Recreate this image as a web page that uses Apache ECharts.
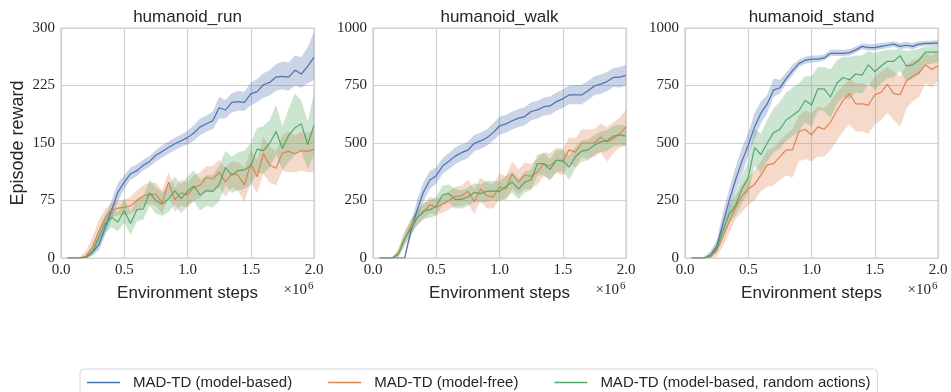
<!DOCTYPE html>
<html>
<head>
<meta charset="utf-8">
<script src="https://cdn.jsdelivr.net/npm/echarts@6/dist/echarts.min.js"></script>
<style>
  html, body { margin: 0; padding: 0; background: #ffffff; }
  #chart { width: 951px; height: 392px; }
</style>
</head>
<body>
<div id="chart"></div>
<script>
// Environment steps (in millions)
const steps = [0.05, 0.10, 0.15, 0.20, 0.25, 0.30, 0.35, 0.40, 0.45, 0.50,
               0.55, 0.60, 0.65, 0.70, 0.75, 0.80, 0.85, 0.90, 0.95, 1.00,
               1.05, 1.10, 1.15, 1.20, 1.25, 1.30, 1.35, 1.40, 1.45, 1.50,
               1.55, 1.60, 1.65, 1.70, 1.75, 1.80, 1.85, 1.90, 1.95, 2.00];

const seriesNames = ['MAD-TD (model-based)', 'MAD-TD (model-free)', 'MAD-TD (model-based, random actions)'];
const taskTitles = ['humanoid_run', 'humanoid_walk', 'humanoid_stand'];
const yMax = [300, 1000, 1000];
const yStep = [75, 250, 250];

// humanoid_run
const runBasedMean = [0,0,0,1,8,17,40,62,86,99,110,114,121,126,134,139,144,149,153,157,163,171,175,179,196,193,203,204,203,214,217,226,229,236,237,236,245,240,250,262];
const runBasedLow  = [0,0,0,0,4,10,30,50,74,90,102,107,114,119,126,131,136,141,145,148,153,160,165,168,182,182,190,192,192,199,203,209,212,218,220,218,225,222,228,232];
const runBasedHigh = [0,0,0,3,13,26,52,75,98,108,118,122,128,133,141,147,152,157,161,166,173,182,186,191,210,206,215,218,217,229,233,241,245,253,256,255,264,262,275,295];
const runFreeMean  = [0,0,0,3,15,35,52,62,65,66,68,75,81,83,83,72,99,76,85,82,92,95,105,103,112,99,110,108,95,124,106,136,121,117,137,139,136,140,139,142];
const runFreeLow   = [0,0,0,0,6,22,40,52,56,56,58,62,68,70,68,58,80,60,68,66,75,78,88,85,92,80,92,88,72,100,84,110,98,95,114,112,112,114,112,112];
const runFreeHigh  = [0,0,2,10,28,50,64,72,75,76,80,88,95,98,98,88,112,92,102,98,108,112,120,120,128,118,126,125,118,142,128,158,145,140,160,165,160,165,163,168];
const runRandMean  = [0,0,0,1,8,28,45,53,47,62,45,63,64,85,75,70,77,88,77,87,94,82,88,87,96,118,108,114,115,120,142,140,150,165,143,160,170,175,148,173];
const runRandLow   = [0,0,0,0,3,18,33,40,35,46,30,48,50,68,58,55,60,70,58,68,74,62,68,66,74,95,85,88,90,95,112,110,118,135,115,125,135,140,115,135];
const runRandHigh  = [0,0,0,3,14,38,57,66,60,78,60,78,80,102,92,86,95,106,96,106,114,102,108,108,120,140,132,138,140,150,170,172,180,200,172,195,215,205,178,215];

// humanoid_walk
const walkBasedMean = [0,0,0,0,0,120,211,288,339,358,400,421,443,458,469,499,509,523,545,574,583,597,608,615,637,644,658,661,680,692,709,709,709,727,748,756,767,785,786,794];
const walkBasedLow  = [0,0,0,0,0,90,171,248,301,323,365,386,408,423,434,464,474,488,510,536,545,559,570,577,599,606,620,623,640,652,669,669,669,687,708,714,725,743,741,749];
const walkBasedHigh = [0,0,0,0,0,155,255,330,378,395,435,457,480,495,505,535,545,560,585,615,622,636,648,655,677,684,698,702,720,733,750,752,753,770,790,798,810,825,830,840];
const walkFreeMean  = [0,0,0,20,80,140,175,200,232,220,235,250,268,270,290,245,300,270,265,310,300,365,330,360,355,375,410,400,425,420,470,460,500,500,500,525,505,520,540,570];
const walkFreeLow   = [0,0,0,5,50,110,145,170,195,185,198,210,225,225,240,190,250,215,215,255,250,300,275,300,300,320,355,345,370,360,410,395,440,430,440,460,420,455,480,490];
const walkFreeHigh  = [0,0,0,40,110,170,205,235,265,255,275,290,310,315,340,300,350,330,320,370,355,420,385,415,410,430,460,455,480,475,525,520,560,560,560,585,570,590,610,645];
const walkRandMean  = [0,0,0,15,85,130,175,205,210,225,275,280,255,255,265,285,280,290,292,290,310,330,300,330,340,410,410,385,425,425,395,440,465,470,490,505,510,530,535,530];
const walkRandLow   = [0,0,0,0,60,100,140,170,175,185,230,240,215,215,225,245,240,245,250,245,260,285,255,285,295,360,360,335,375,375,340,390,420,425,450,460,465,485,490,485];
const walkRandHigh  = [0,0,0,35,115,165,210,240,250,265,315,320,300,295,305,325,320,335,335,335,355,375,345,375,385,450,455,430,470,470,445,485,510,515,535,550,555,575,580,575];

// humanoid_stand
const standBasedMean = [0,0,0,12,50,150,250,340,420,490,570,630,670,730,740,780,815,845,860,865,865,870,890,890,890,893,905,920,915,915,920,925,930,920,925,920,930,933,933,935];
const standBasedLow  = [0,0,0,0,30,100,195,285,365,440,520,585,630,700,715,760,795,830,845,850,852,858,878,878,878,880,892,908,902,902,908,912,918,908,912,908,918,922,922,925];
const standBasedHigh = [0,0,5,30,75,200,300,395,480,545,630,680,710,780,775,805,840,862,875,880,880,885,905,905,905,908,920,933,930,930,935,938,942,935,940,935,942,945,945,948];
const standFreeMean  = [0,0,0,5,30,90,160,220,270,300,320,360,405,410,440,470,470,550,560,535,570,560,590,640,685,715,670,670,665,710,720,755,715,710,770,790,805,840,820,835];
const standFreeLow   = [0,0,0,0,5,50,110,170,200,230,250,290,310,315,340,360,350,420,430,420,440,440,470,510,550,580,550,550,540,580,600,630,600,570,650,680,700,760,740,770];
const standFreeHigh  = [0,0,0,15,60,130,210,270,320,350,380,420,470,480,510,540,560,620,640,630,660,650,680,720,750,780,760,760,750,790,810,830,810,790,840,860,870,890,880,895];
const standRandMean  = [0,0,0,10,40,120,190,230,300,350,480,450,500,545,560,600,620,640,685,665,735,735,700,760,785,775,800,795,840,810,835,855,855,880,835,840,860,895,895,895];
const standRandLow   = [0,0,0,2,25,90,150,185,240,280,400,370,420,460,475,510,530,550,590,570,640,640,610,670,700,690,720,715,760,730,760,780,785,815,770,780,800,840,845,850];
const standRandHigh  = [0,0,0,20,60,150,230,280,360,420,560,540,600,650,680,720,740,760,790,790,830,830,820,860,875,875,880,880,900,890,900,905,905,910,900,905,910,920,920,925];

const panels = [
  [[runBasedMean, runBasedLow, runBasedHigh], [runFreeMean, runFreeLow, runFreeHigh], [runRandMean, runRandLow, runRandHigh]],
  [[walkBasedMean, walkBasedLow, walkBasedHigh], [walkFreeMean, walkFreeLow, walkFreeHigh], [walkRandMean, walkRandLow, walkRandHigh]],
  [[standBasedMean, standBasedLow, standBasedHigh], [standFreeMean, standFreeLow, standFreeHigh], [standRandMean, standRandLow, standRandHigh]]
];

const colors = ['#4c72b0', '#dd8452', '#55a868'];
const gridLeft = [61, 373, 685];
const gridWidth = 253;
const gridTop = 28;
const gridHeight = 230;
const sansFont = "'Liberation Sans', 'DejaVu Sans', sans-serif";
const serifFont = "'Liberation Serif', 'DejaVu Serif', serif";
const textColor = '#262626';
const lineGrey = '#d2d2d2';

const grids = [], xAxes = [], yAxes = [], series = [], graphics = [];

// Shaded spread between low and high, drawn as one polygon through the axis scales
function bandSeries(gi, lo, hi, color) {
  return {
    type: 'custom',
    xAxisIndex: gi,
    yAxisIndex: gi,
    silent: true,
    z: 1,
    data: steps.map((x, i) => [x, lo[i], hi[i]]),
    encode: { x: 0, y: [1, 2] },
    renderItem(params, api) {
      if (params.dataIndex !== 0) return null;
      const pts = [];
      for (let i = 0; i < steps.length; i++) pts.push(api.coord([steps[i], hi[i]]));
      for (let i = steps.length - 1; i >= 0; i--) pts.push(api.coord([steps[i], lo[i]]));
      return { type: 'polygon', shape: { points: pts }, style: { fill: color, opacity: 0.3 } };
    }
  };
}

panels.forEach((panel, gi) => {
  grids.push({
    left: gridLeft[gi], top: gridTop, width: gridWidth, height: gridHeight,
    show: true, borderColor: lineGrey, borderWidth: 1.2, backgroundColor: '#ffffff'
  });
  xAxes.push({
    gridIndex: gi, type: 'value', min: 0, max: 2, interval: 0.5,
    axisLine: { show: false }, axisTick: { show: false },
    splitLine: { show: true, lineStyle: { color: lineGrey, width: 1.2 } },
    axisLabel: {
      formatter: v => v.toFixed(1), fontFamily: serifFont, fontSize: 15,
      color: textColor, margin: 5, showMinLabel: true, showMaxLabel: true
    },
    name: 'Environment steps', nameLocation: 'middle', nameGap: 27,
    nameTextStyle: { fontFamily: sansFont, fontSize: 17, color: textColor }
  });
  yAxes.push({
    gridIndex: gi, type: 'value', min: 0, max: yMax[gi], interval: yStep[gi],
    axisLine: { show: false }, axisTick: { show: false },
    splitLine: { show: true, lineStyle: { color: lineGrey, width: 1.2 } },
    axisLabel: { formatter: v => String(v), fontFamily: serifFont, fontSize: 15, color: textColor, margin: 6 },
    name: gi === 0 ? 'Episode reward' : '', nameLocation: 'middle', nameGap: 34,
    nameTextStyle: { fontFamily: sansFont, fontSize: 18, color: textColor }
  });

  panel.forEach((s, si) => series.push(bandSeries(gi, s[1], s[2], colors[si])));
  panel.forEach((s, si) => series.push({
    name: seriesNames[si], type: 'line', xAxisIndex: gi, yAxisIndex: gi,
    data: steps.map((x, i) => [x, s[0][i]]),
    showSymbol: false, symbol: 'none', z: 3, silent: true,
    lineStyle: { color: colors[si], width: 1.2 }, itemStyle: { color: colors[si] }
  }));

  const cx = gridLeft[gi] + gridWidth / 2;
  graphics.push({
    type: 'text', x: cx, y: 17, silent: true,
    style: { text: taskTitles[gi], font: "17px 'Liberation Sans', 'DejaVu Sans', sans-serif",
      fill: textColor, align: 'center', verticalAlign: 'middle', textAlign: 'center', textVerticalAlign: 'middle' }
  });
  const rx = gridLeft[gi] + gridWidth;
  graphics.push({
    type: 'text', x: rx - 7, y: 298, silent: true,
    style: { text: '×10', font: "15px 'Liberation Serif', 'DejaVu Serif', serif",
      fill: textColor, align: 'right', verticalAlign: 'bottom', textAlign: 'right', textVerticalAlign: 'bottom' }
  });
  graphics.push({
    type: 'text', x: rx - 6, y: 292, silent: true,
    style: { text: '6', font: "11px 'Liberation Serif', 'DejaVu Serif', serif",
      fill: textColor, align: 'left', verticalAlign: 'bottom', textAlign: 'left', textVerticalAlign: 'bottom' }
  });
});

const chart = echarts.init(document.getElementById('chart'), null, { renderer: 'canvas' });
chart.setOption({
  animation: false,
  backgroundColor: '#ffffff',
  grid: grids,
  xAxis: xAxes,
  yAxis: yAxes,
  series: series,
  graphic: graphics,
  legend: {
    data: seriesNames,
    left: 80, top: 369,
    orient: 'horizontal',
    padding: [6, 7, 16, 7],
    itemWidth: 33, itemHeight: 14, itemGap: 36,
    backgroundColor: '#ffffff', borderColor: '#d6d6d6', borderWidth: 1, borderRadius: 4,
    icon: 'path://M0,0 L33,0 L33,1.3 L0,1.3 Z',
    textStyle: { fontFamily: sansFont, fontSize: 15, color: textColor, padding: [0, 0, 0, 8] },
    selectedMode: false
  }
});
</script>
</body>
</html>
